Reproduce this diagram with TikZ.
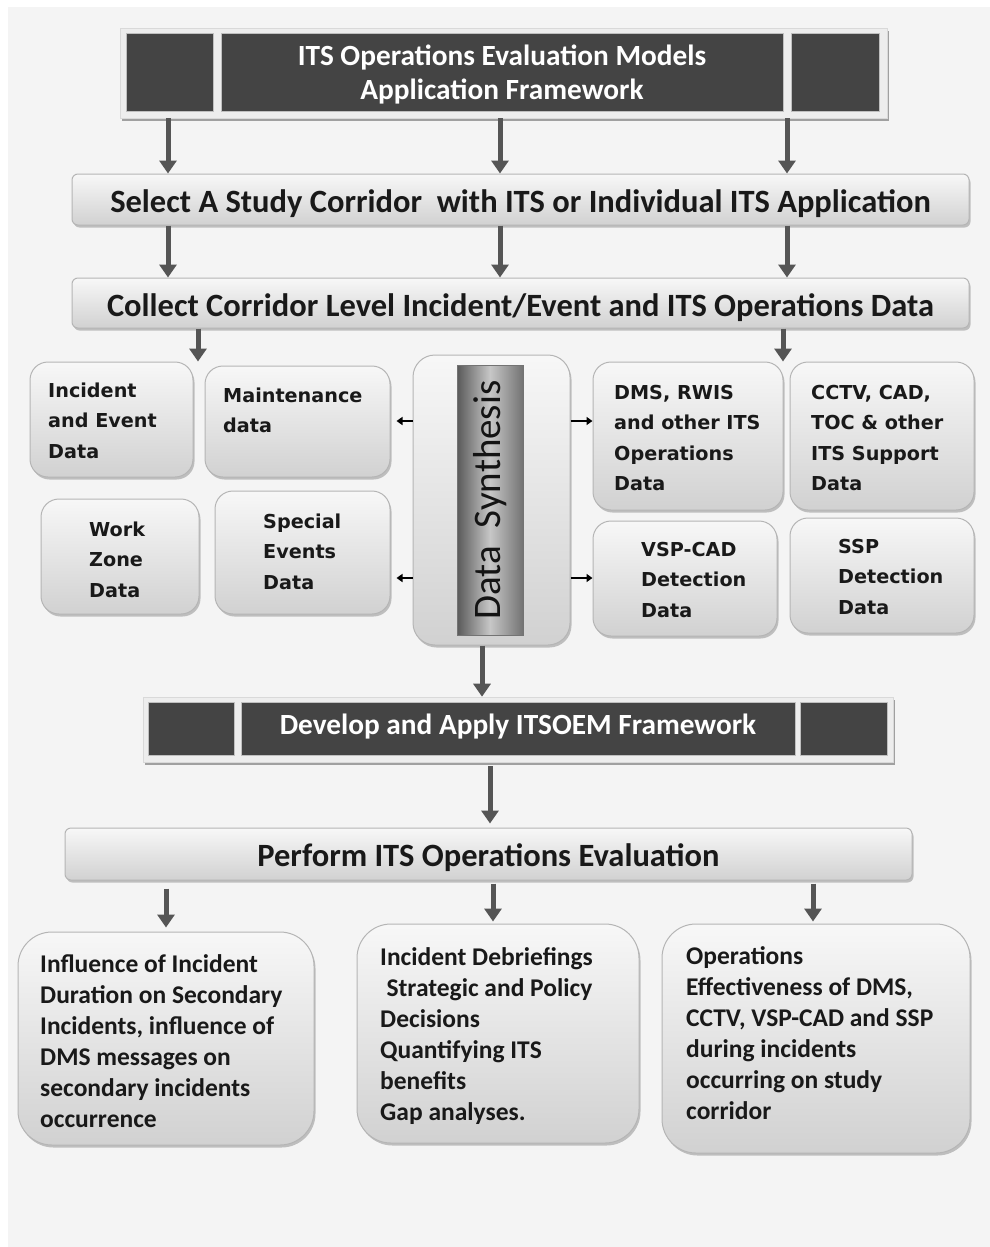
\documentclass[tikz,border=0pt]{standalone}
\usepackage{fontspec}
\setmainfont{Carlito}
\newfontfamily\dvfont{DejaVu Sans}
\usetikzlibrary{arrows.meta,shadows,calc}
\definecolor{bgc}{HTML}{F4F4F4}
\definecolor{darkc}{HTML}{444444}
\definecolor{arrc}{HTML}{555555}
\definecolor{bordc}{HTML}{B5B5B5}
\definecolor{framec}{HTML}{EDEDED}
\begin{document}
\begin{tikzpicture}[x=1pt,y=-1pt,
  gbox/.style={draw=bordc, line width=1pt, top color=white!97!black, bottom color=black!18,
    rounded corners=#1, inner sep=0pt,
    drop shadow={shadow xshift=1.5pt, shadow yshift=-2.5pt, fill=black, opacity=0.22}},
  gbox/.default=18pt,
  frame/.style={fill=framec, draw=white!85!black, line width=0.6pt, inner sep=0pt,
    drop shadow={shadow xshift=2pt, shadow yshift=-3pt, fill=black!45, opacity=0.8}},
  darkbar/.style={fill=darkc, draw=white!75!black, line width=0.6pt, inner sep=0pt, text=white},
  bigarr/.style={draw=arrc, line width=5pt, -{Triangle[width=17pt,length=13pt]}},
  smallarr/.style={draw=black, line width=1.6pt, -{Triangle[width=8pt,length=6pt]}},
  dtxt/.style={anchor=north west, inner sep=0pt, align=left, text=black!90,
    font=\dvfont\bfseries\fontsize{19.2}{30.5}\selectfont},
  ctxt/.style={anchor=north west, inner sep=0pt, align=left, text=black!90,
    font=\bfseries\fontsize{25.5}{31}\selectfont},
  bartxt/.style={font=\bfseries\fontsize{32.5}{36}\selectfont, text=black!90, inner sep=0pt},
  whitetxt/.style={font=\bfseries\fontsize{29.3}{34}\selectfont, text=white, align=center, inner sep=0pt}
]
% background
\path[fill=white] (0,0) rectangle (990,1247);
\path[fill=bgc] (8,7) rectangle (990,1247);
\useasboundingbox (0,0) rectangle (990,1247);

% column coordinates
\coordinate (c1) at (168,0);
\coordinate (c2) at (500,0);
\coordinate (c3) at (787,0);

% top framed title
\node[frame, minimum width=767pt, minimum height=90pt] (top) at (503.5,73) {};
\node[darkbar, minimum width=87pt, minimum height=78pt] (topl) at (169.5,72) {};
\node[darkbar, minimum width=562pt, minimum height=78pt] (topm) at (502,72) {};
\node[darkbar, minimum width=88pt, minimum height=78pt] (topr) at (835,72) {};
\node[whitetxt] (topt) at ([yshift=-3pt]topm.center)
  {ITS Operations Evaluation Models\\Application Framework};

% select and collect bars
\node[gbox=6pt, minimum width=897pt, minimum height=51pt] (sel) at (520.5,199.5) {};
\node[bartxt] (selt) at ([yshift=-4pt]sel.center)
  {Select A Study Corridor\ \ with ITS or Individual ITS Application};
\node[gbox=6pt, minimum width=897pt, minimum height=50pt] (col) at (520.5,303) {};
\node[bartxt] (colt) at ([yshift=-5pt]col.center)
  {Collect Corridor Level Incident/Event and ITS Operations Data};

\draw[bigarr] (top.south -| c1) -- (sel.north -| c1);
\draw[bigarr] (top.south -| c2) -- (sel.north -| c2);
\draw[bigarr] (top.south -| c3) -- (sel.north -| c3);
\draw[bigarr] (sel.south -| c1) -- (col.north -| c1);
\draw[bigarr] (sel.south -| c2) -- (col.north -| c2);
\draw[bigarr] (sel.south -| c3) -- (col.north -| c3);

% data boxes
\node[gbox, minimum width=163pt, minimum height=115pt] (inc) at (111.5,419.5) {};
\node[gbox, minimum width=185pt, minimum height=111pt] (mnt) at (297.5,421.5) {};
\node[gbox, minimum width=158pt, minimum height=115pt] (wz) at (120,556.5) {};
\node[gbox, minimum width=175pt, minimum height=123pt] (spe) at (302.5,552.5) {};
\node[gbox, minimum width=190pt, minimum height=148pt] (dms) at (688,436) {};
\node[gbox, minimum width=184pt, minimum height=148pt] (cctv) at (882,436) {};
\node[gbox, minimum width=184pt, minimum height=115pt] (vsp) at (685,578.5) {};
\node[gbox, minimum width=184pt, minimum height=115pt] (ssp) at (882,575.5) {};

\node[dtxt] (inct) at (48,{397-21.35}) {\strut Incident\\and Event\\Data};
\node[dtxt] (mntt) at (223,{402-21.35}) {\strut Maintenance\\data};
\node[dtxt] (wzt) at (89,{536-21.35}) {\strut Work\\Zone\\Data};
\node[dtxt] (spet) at (263,{528-21.35}) {\strut Special\\Events\\Data};
\node[dtxt] (dmst) at (614,{399-21.35}) {\strut DMS, RWIS\\and other ITS\\Operations\\Data};
\node[dtxt] (cctvt) at (811,{399-21.35}) {\strut CCTV, CAD,\\TOC \& other\\ITS Support\\Data};
\node[dtxt] (vspt) at (641,{556-21.35}) {\strut VSP-CAD\\Detection\\Data};
\node[dtxt] (sspt) at (838,{553-21.35}) {\strut SSP\\Detection\\Data};

% data synthesis
\node[gbox=22pt, minimum width=157pt, minimum height=290pt] (ds) at (491.5,500) {};
\node[draw=black!55, line width=0.8pt, minimum width=66pt, minimum height=270pt, inner sep=0pt,
  left color=black!65, right color=black!55, middle color=black!22] (dsi) at (490,500) {};
\node[rotate=90, font=\fontsize{39}{42}\selectfont, text=black!92] (dslabel) at (dsi.center) {Data\ \ Synthesis};

\coordinate (r1) at (0,421);
\coordinate (r2) at (0,578);
\draw[bigarr] (col.south -| 198,0) -- (inc.north east -| 198,0);
\draw[bigarr] (col.south -| 783,0) -- (dms.north east -| 783,0);
\draw[smallarr, shorten >=6pt] (ds.west |- r1) -- (mnt.east |- r1);
\draw[smallarr, shorten >=6pt] (ds.west |- r2) -- (spe.east |- r2);
\draw[smallarr] (ds.east |- r1) -- (dms.west |- r1);
\draw[smallarr] (ds.east |- r2) -- (vsp.west |- r2);

% develop framework
\node[frame, minimum width=750pt, minimum height=65pt] (dev) at (518,729.5) {};
\node[darkbar, minimum width=86pt, minimum height=53pt] (devl) at (191,728.5) {};
\node[darkbar, minimum width=554pt, minimum height=53pt] (devm) at (518,728.5) {};
\node[darkbar, minimum width=87pt, minimum height=53pt] (devr) at (843.5,728.5) {};
\node[whitetxt] (devt) at ([yshift=2pt]devm.center) {Develop and Apply ITSOEM Framework};

\draw[bigarr] (ds.south -| 482,0) -- (dev.north -| 482,0);

% perform
\node[gbox=6pt, minimum width=847pt, minimum height=52pt] (perf) at (488.5,854) {};
\node[bartxt] (perft) at ([yshift=-4pt]perf.center) {Perform ITS Operations Evaluation};
\draw[bigarr] ([yshift=-4pt]dev.south -| 490,0) -- ([yshift=4pt]perf.north -| 490,0);

% outcome boxes
\node[gbox=34pt, minimum width=296pt, minimum height=213pt] (b1) at (166,1038.5) {};
\node[gbox=34pt, minimum width=282pt, minimum height=219pt] (b2) at (498,1033.5) {};
\node[gbox=34pt, minimum width=308pt, minimum height=229pt] (b3) at (816,1038.5) {};

\draw[bigarr] ([yshift=-8pt]perf.south -| 166,0) -- ([yshift=4pt]b1.north -| 166,0);
\draw[bigarr] ([yshift=-3pt]perf.south -| 493,0) -- ([yshift=2pt]b2.north -| 493,0);
\draw[bigarr] ([yshift=-3pt]perf.south -| 813,0) -- ([yshift=2pt]b3.north -| 813,0);

\node[ctxt] (b1t) at (40,{972-21.7}) {\strut Influence of Incident\\Duration on Secondary\\Incidents, influence of\\DMS messages on\\secondary incidents\\occurrence};
\node[ctxt] (b2t) at (380,{965-21.7}) {\strut Incident Debriefings\\\hspace{0.25em}Strategic and Policy\\Decisions\\Quantifying ITS\\benefits\\Gap analyses.};
\node[ctxt] (b3t) at (686,{964-21.7}) {\strut Operations\\Effectiveness of DMS,\\CCTV, VSP-CAD and SSP\\during incidents\\occurring on study\\corridor};
\end{tikzpicture}
\end{document}
